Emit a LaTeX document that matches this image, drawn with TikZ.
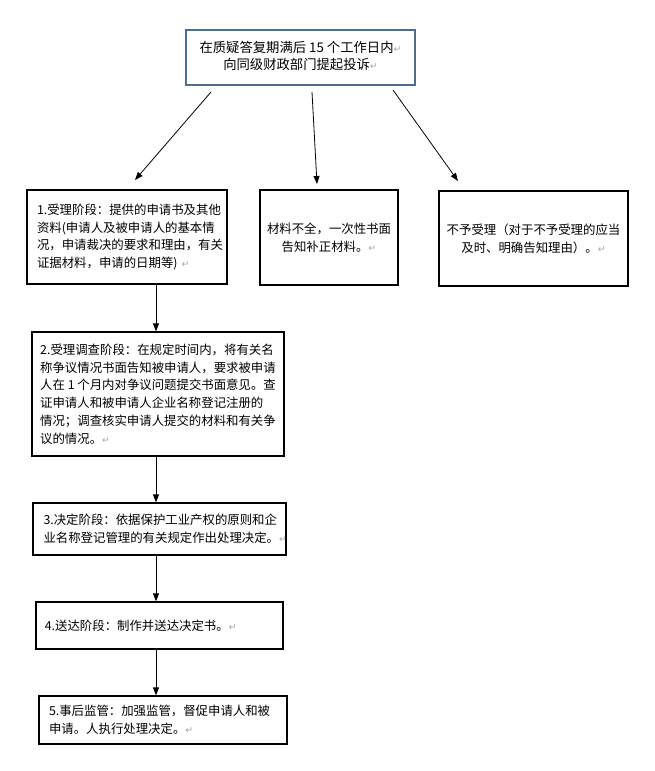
\documentclass[tikz,border=0pt]{standalone}
\usepackage{fontspec}
\setmainfont{Noto Sans CJK SC}
\newfontfamily\dejavu{DejaVu Sans}
\usetikzlibrary{arrows.meta}
\definecolor{topblue}{RGB}{78,110,145}
\newcommand{\pmark}{\textcolor{gray!70}{\dejavu\fontsize{7}{7}\selectfont ↵}}
\tikzset{
  box/.style={draw=black, line width=0.9pt, inner sep=0pt,
    font=\fontsize{9.3}{13.35}\selectfont},
  leftbox/.style={box, align=left},
  midbox/.style={box, align=center},
  arr/.style={line width=0.6pt, -{Triangle[length=6pt,width=4.5pt]}},
}
\begin{document}
\begin{tikzpicture}[x=0.75pt,y=-0.75pt]
\useasboundingbox (0,0) rectangle (655,771);

% top box
\node[midbox, draw=topblue, line width=0.8pt, font=\fontsize{10}{13.5}\selectfont,
      minimum width=171.75pt, minimum height=41.25pt] (top) at (300.5,57.5)
  {\raisebox{1.5pt}{\begin{tabular}{@{}c@{}}在质疑答复期满后 15 个工作日内\pmark\\[-0.5pt]向同级财政部门提起投诉\pmark\end{tabular}}};

% second row
\node[leftbox, text width=135pt, minimum width=150pt, minimum height=70.5pt] (b1) at (127,237)
  {1.受理阶段：提供的申请书及其他\\资料(申请人及被申请人的基本情\\况，申请裁决的要求和理由，有关\\证据材料，申请的日期等) \pmark};
\node[midbox, minimum width=103.5pt, minimum height=71.25pt] (b2) at (329,237.5)
  {材料不全，一次性书面\\告知补正材料。\pmark};
\node[midbox, minimum width=141.75pt, minimum height=71.25pt] (b3) at (533.5,238.5)
  {不予受理（对于不予受理的应当\\及时、明确告知理由）。\pmark};

% stages
\node[leftbox, minimum width=189pt, minimum height=93pt] (s2) at (158,394)
  {2.受理调查阶段：在规定时间内，将有关名\\称争议情况书面告知被申请人，要求被申请\\人在 1 个月内对争议问题提交书面意见。查\\证申请人和被申请人企业名称登记注册的\\情况；调查核实申请人提交的材料和有关争\\议的情况。\pmark};
\node[leftbox, text width=174pt, minimum width=189.75pt, minimum height=39pt] (s3) at (159.5,529)
  {3.决定阶段：依据保护工业产权的原则和企\\业名称登记管理的有关规定作出处理决定。\pmark};
\node[leftbox, text width=172pt, minimum width=185.25pt, minimum height=35.25pt] (s4) at (159.5,625.5)
  {4.送达阶段：制作并送达决定书。\pmark};
\node[leftbox, text width=171pt, minimum width=186pt, minimum height=36pt] (s5) at (163,720)
  {5.事后监管：加强监管，督促申请人和被\\申请。人执行处理决定。\pmark};

% free arrow ends
\coordinate (a1s) at (211,92);  \coordinate (a1e) at (135,180);
\coordinate (a2s) at (312,92);  \coordinate (a2e) at (317,184);
\coordinate (a3s) at (393,90);  \coordinate (a3e) at (458,181);
\coordinate (xv) at (156,0);

\draw[arr] (a1s) -- (a1e);
\draw[arr] (a2s) -- (a2e);
\draw[arr] (a3s) -- (a3e);

\draw[arr] (b1.south -| xv) -- (s2.north -| xv);
\draw[arr] (s2.south -| xv) -- (s3.north -| xv);
\draw[arr] (s3.south -| xv) -- (s4.north -| xv);
\draw[arr] (s4.south -| xv) -- (s5.north -| xv);
\end{tikzpicture}
\end{document}
